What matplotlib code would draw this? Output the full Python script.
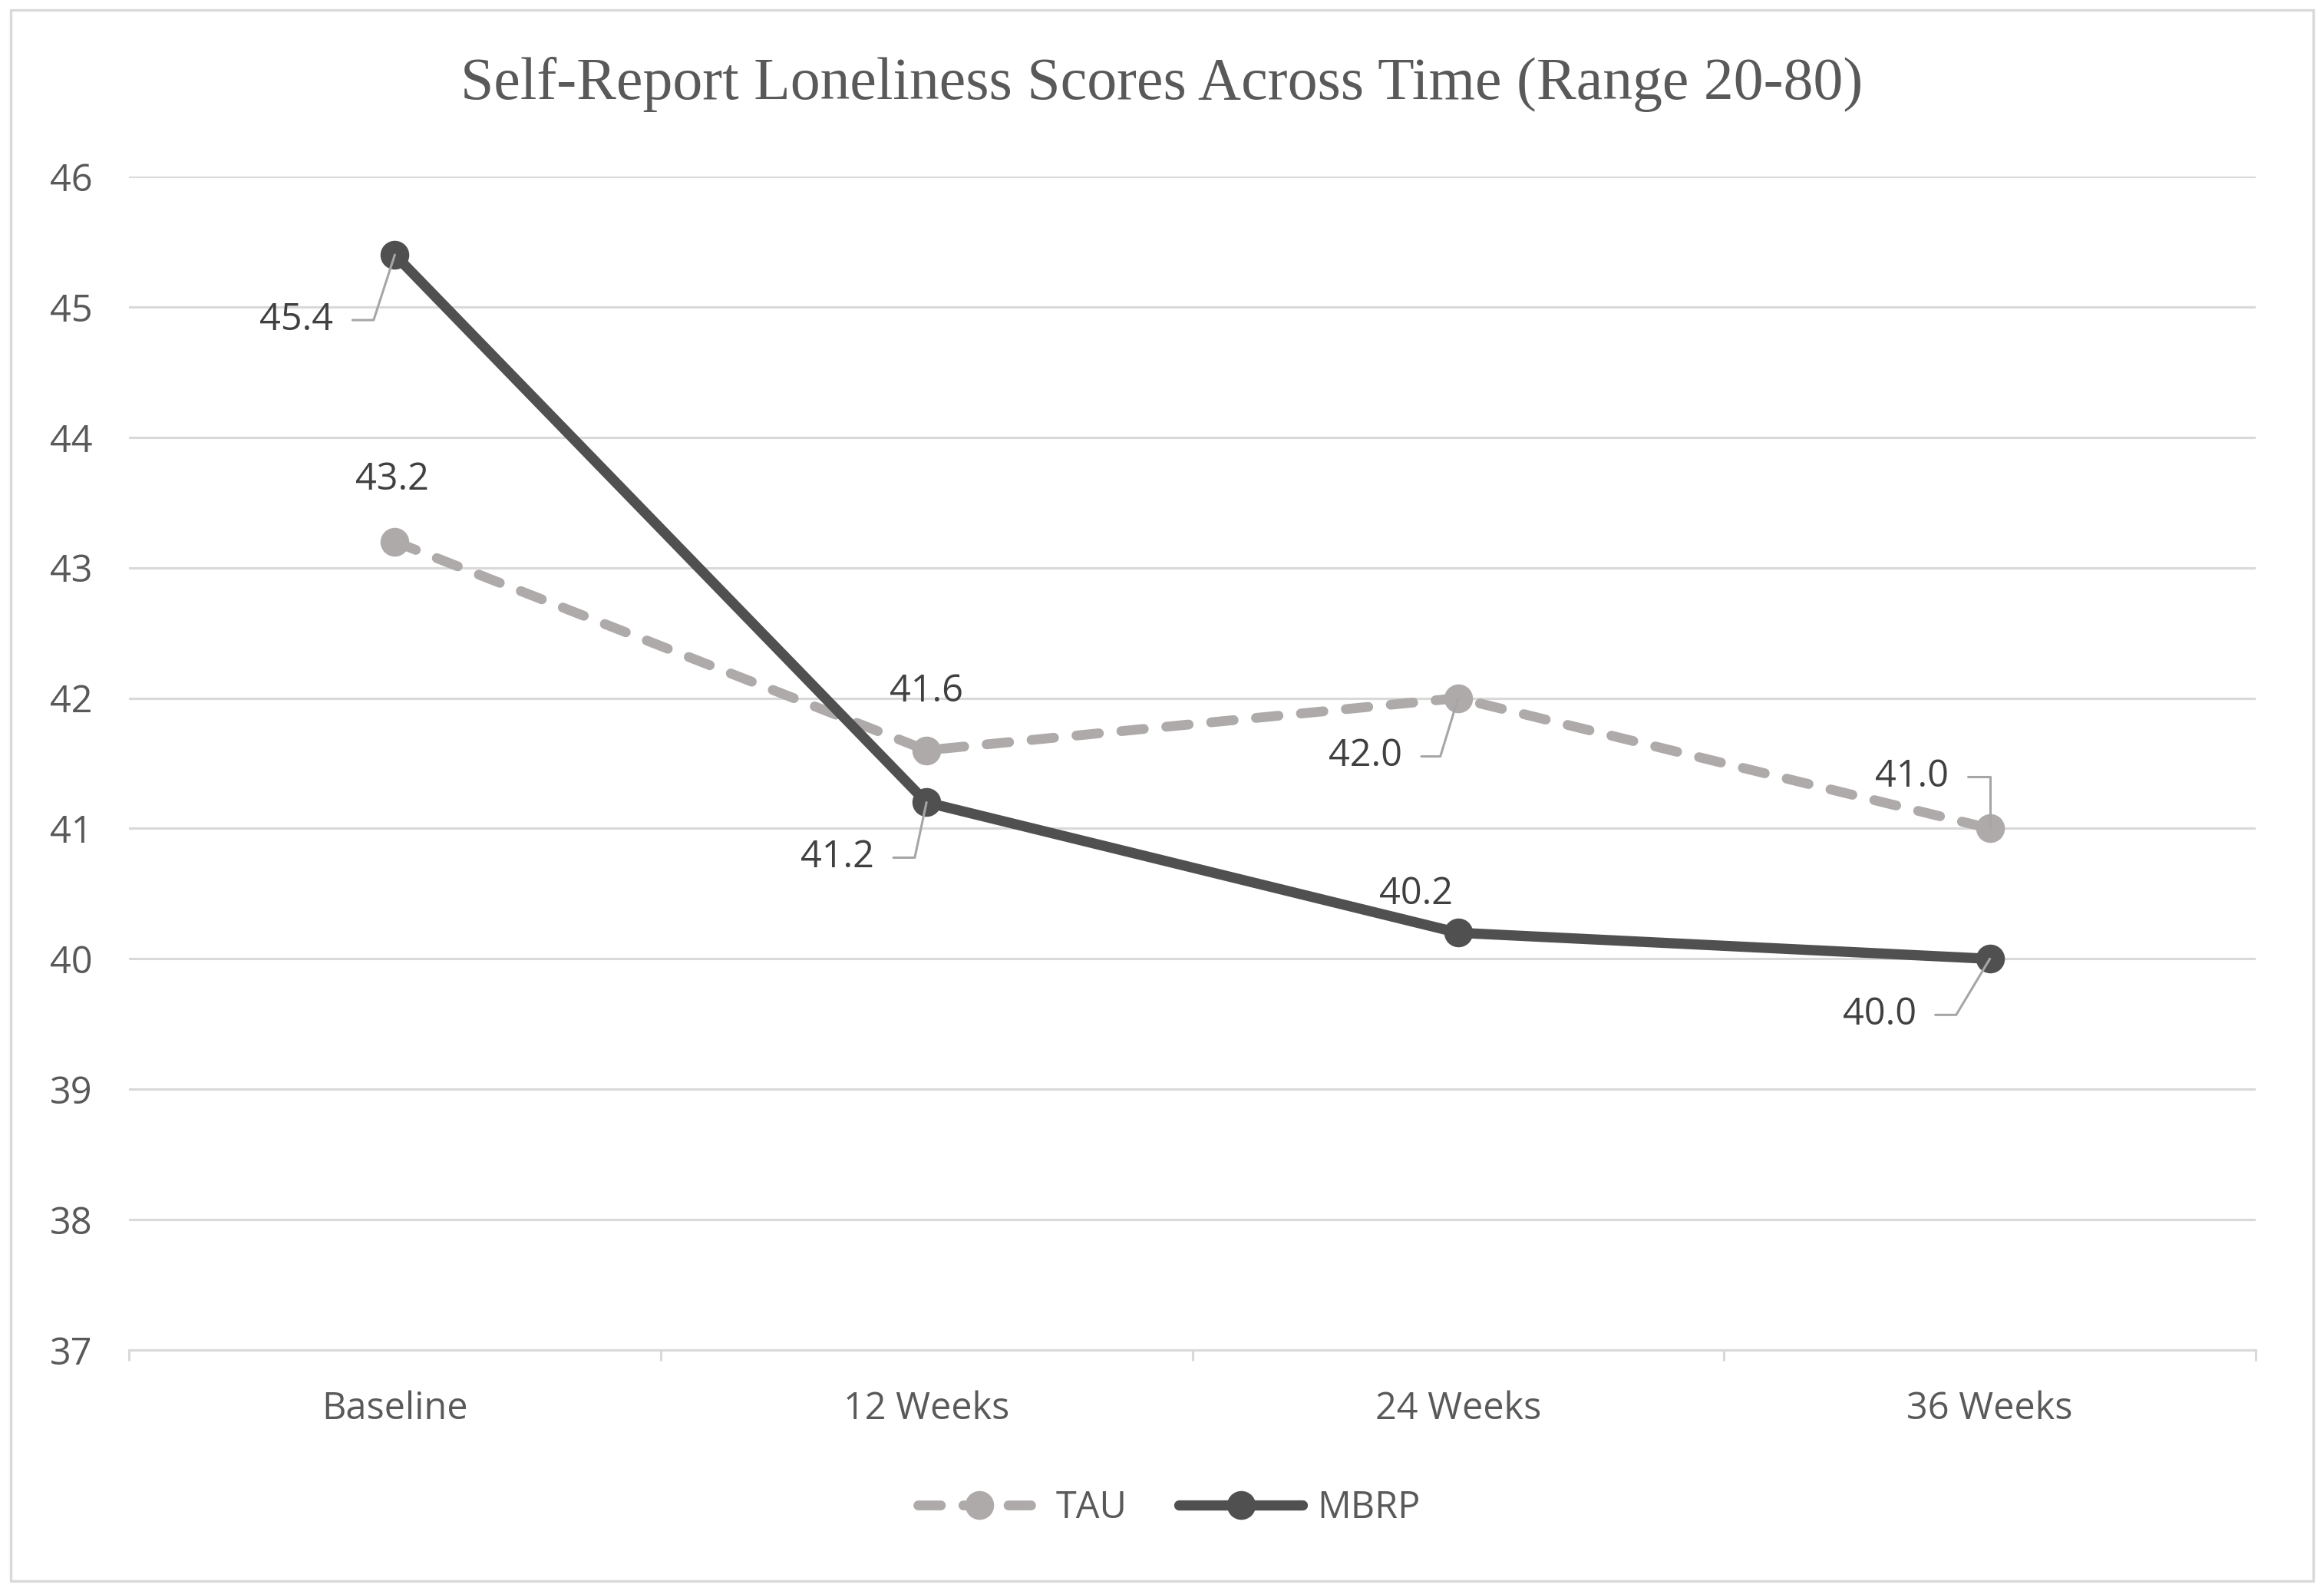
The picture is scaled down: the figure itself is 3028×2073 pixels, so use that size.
import matplotlib.pyplot as plt
from matplotlib.patches import Rectangle

# data
time_points = ["Baseline", "12 Weeks", "24 Weeks", "36 Weeks"]
tau_scores = [43.2, 41.6, 42.0, 41.0]
mbrp_scores = [45.4, 41.2, 40.2, 40.0]
y_ticks = [37, 38, 39, 40, 41, 42, 43, 44, 45, 46]

TXT = "#595959"
GRID = "#D9D9D9"
TAU_C = "#AEAAAA"
MBRP_C = "#505050"
LEAD = "#A6A6A6"

plt.rcParams['font.family'] = ['Open Sans', 'DejaVu Sans']

fig = plt.figure(figsize=(15.14, 10.365), dpi=200)
ax = fig.add_axes([0.0555, 0.1515, 0.9151, 0.7375])

x = list(range(len(time_points)))

ax.plot(x, tau_scores, color=TAU_C, lw=4.6, dashes=(2.3, 2.3),
        dash_capstyle='round', marker='o', ms=12.5, label="TAU", zorder=3)
ax.plot(x, mbrp_scores, color=MBRP_C, lw=4.8, solid_capstyle='round',
        marker='o', ms=12.5, label="MBRP", zorder=4)

ax.set_xlim(-0.5, len(time_points) - 0.5)
ax.set_ylim(y_ticks[0], y_ticks[-1])
ax.set_yticks(y_ticks)
ax.set_xticks(x)
ax.set_xticklabels(time_points)
ax.set_xticks([i - 0.5 for i in range(len(time_points) + 1)], minor=True)

ax.grid(axis='y', color=GRID, lw=1.1)
ax.set_axisbelow(True)
for s in ['top', 'right', 'left']:
    ax.spines[s].set_visible(False)
ax.spines['bottom'].set_color(GRID)
ax.spines['bottom'].set_linewidth(1.1)

ax.tick_params(axis='y', length=0, pad=17, labelsize=17.5, labelcolor=TXT)
ax.tick_params(axis='x', which='major', length=0, pad=19, labelsize=17.5, labelcolor=TXT)
ax.tick_params(axis='x', which='minor', length=5, width=1.1, color=GRID, direction='out')

# data labels, offsets in pixels from the point; leader angle where there is one
lbl_kw = dict(textcoords='offset pixels', ha='center', va='center',
              fontsize=17.5, color="#404040", zorder=6)

def put_label(vals, i, dx, dy, angle=None):
    arrow = None
    if angle is not None:
        arrow = dict(arrowstyle='-', color=LEAD, lw=1.1, relpos=(1, 0.5),
                     shrinkA=7, shrinkB=0,
                     connectionstyle="angle,angleA=0,angleB=%d,rad=0" % angle)
    ax.annotate("%.1f" % vals[i], xy=(x[i], vals[i]), xytext=(dx, dy),
                arrowprops=arrow, **lbl_kw)

put_label(tau_scores, 0, -3, 80)
put_label(tau_scores, 1, 0, 76)
put_label(tau_scores, 2, -121, -76, 73)
put_label(tau_scores, 3, -102, 67, 90)
put_label(mbrp_scores, 0, -128, -85, 72)
put_label(mbrp_scores, 1, -116, -72, 78)
put_label(mbrp_scores, 2, -55, 50)
put_label(mbrp_scores, 3, -144, -73, 59)

fig.suptitle("Self-Report Loneliness Scores Across Time (Range 20-80)",
             family='Liberation Serif', fontsize=28, color=TXT, y=0.947, va='center')

leg = fig.legend(loc='center', bbox_to_anchor=(0.503, 0.052), ncol=2,
                 frameon=False, fontsize=17.5, handlelength=3.3,
                 columnspacing=1.4, handletextpad=0.4)
for t in leg.get_texts():
    t.set_color(TXT)

# outer chart border
fig.patches.append(Rectangle((0.0045, 0.0065), 0.991, 0.987, transform=fig.transFigure,
                             fill=False, edgecolor=GRID, lw=1.2))

fig.savefig("out.png", dpi=200)
